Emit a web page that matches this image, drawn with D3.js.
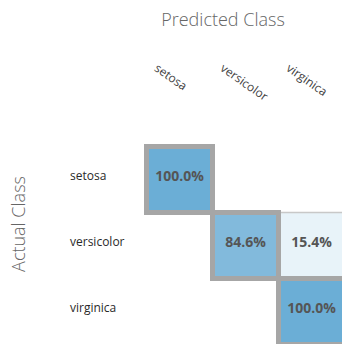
<!DOCTYPE html>
<html>
<head>
<meta charset="utf-8">
<script src="https://cdn.jsdelivr.net/npm/d3@7"></script>
<style>
  html, body { margin: 0; padding: 0; background: #fff; }
  svg { display: block; font-family: "Open Sans", "Noto Sans", sans-serif; }
</style>
</head>
<body>
<svg id="chart" width="342" height="344"></svg>
<script>
// Confusion matrix of the iris classifier (row = actual, column = predicted)
const classes = ["setosa", "versicolor", "virginica"];
const actualRows = ["setosa", "versicolor", "virginica"];
const predictedCols = ["setosa", "versicolor", "virginica"];
// Row-normalised rates in percent
const setosaRow = [100.0, 0, 0];
const versicolorRow = [0, 84.6, 15.4];
const virginicaRow = [0, 0, 100.0];
const xTitle = "Predicted Class";
const yTitle = "Actual Class";

const rows = [setosaRow, versicolorRow, virginicaRow];
const cells = [];
rows.forEach((r, i) => r.forEach((v, j) => cells.push({ actual: actualRows[i], predicted: predictedCols[j], value: v })));

const svg = d3.select("#chart");
const cellSize = 66;
const gridLeft = 146.5, gridTop = 146.5;

const x = d3.scaleBand().domain(predictedCols).range([gridLeft, gridLeft + cellSize * classes.length]);
const y = d3.scaleBand().domain(actualRows).range([gridTop, gridTop + cellSize * classes.length]);
const color = d3.scaleLinear().domain([0, 100]).range(["#ffffff", "#6baed6"]);

// Off-diagonal cells first, diagonal outlines on top
const ordered = cells.slice().sort((a, b) => (a.actual === a.predicted) - (b.actual === b.predicted));

svg.append("g").selectAll("rect")
  .data(ordered)
  .join("rect")
  .attr("x", d => x(d.predicted))
  .attr("y", d => y(d.actual))
  .attr("width", x.bandwidth())
  .attr("height", y.bandwidth())
  .attr("fill", d => color(d.value))
  .attr("stroke", d => d.actual === d.predicted ? "#a6a6a6" : (d.value > 0 ? "#c8c8c8" : "none"))
  .attr("stroke-width", d => d.actual === d.predicted ? 5 : 1.5);

// Percent labels on non-empty cells
svg.append("g").selectAll("text")
  .data(cells.filter(d => d.value > 0))
  .join("text")
  .attr("x", d => x(d.predicted) + x.bandwidth() / 2)
  .attr("y", d => y(d.actual) + y.bandwidth() / 2 - 4)
  .attr("text-anchor", "middle")
  .attr("dominant-baseline", "central")
  .attr("font-size", 14)
  .attr("font-weight", 700)
  .attr("fill", "#555")
  .text(d => d3.format(".1f")(d.value) + "%");

// Column labels, slanted
svg.append("g").selectAll("text")
  .data(predictedCols)
  .join("text")
  .attr("transform", d => `translate(${x(d) + 7},${70}) rotate(35)`)
  .attr("font-size", 12)
  .attr("fill", "#444")
  .text(d => d);

// Row labels
svg.append("g").selectAll("text")
  .data(actualRows)
  .join("text")
  .attr("x", 70)
  .attr("y", d => y(d) + y.bandwidth() / 2 - 4)
  .attr("dominant-baseline", "central")
  .attr("font-size", 12)
  .attr("fill", "#2a2a2a")
  .text(d => d);

// Axis titles
svg.append("text")
  .attr("x", 223)
  .attr("y", 26)
  .attr("text-anchor", "middle")
  .attr("font-size", 18)
  .attr("font-weight", 300)
  .attr("fill", "#666")
  .text(xTitle);

svg.append("text")
  .attr("transform", "translate(25,224) rotate(-90)")
  .attr("text-anchor", "middle")
  .attr("font-size", 18)
  .attr("font-weight", 300)
  .attr("fill", "#666")
  .text(yTitle);
</script>
</body>
</html>
